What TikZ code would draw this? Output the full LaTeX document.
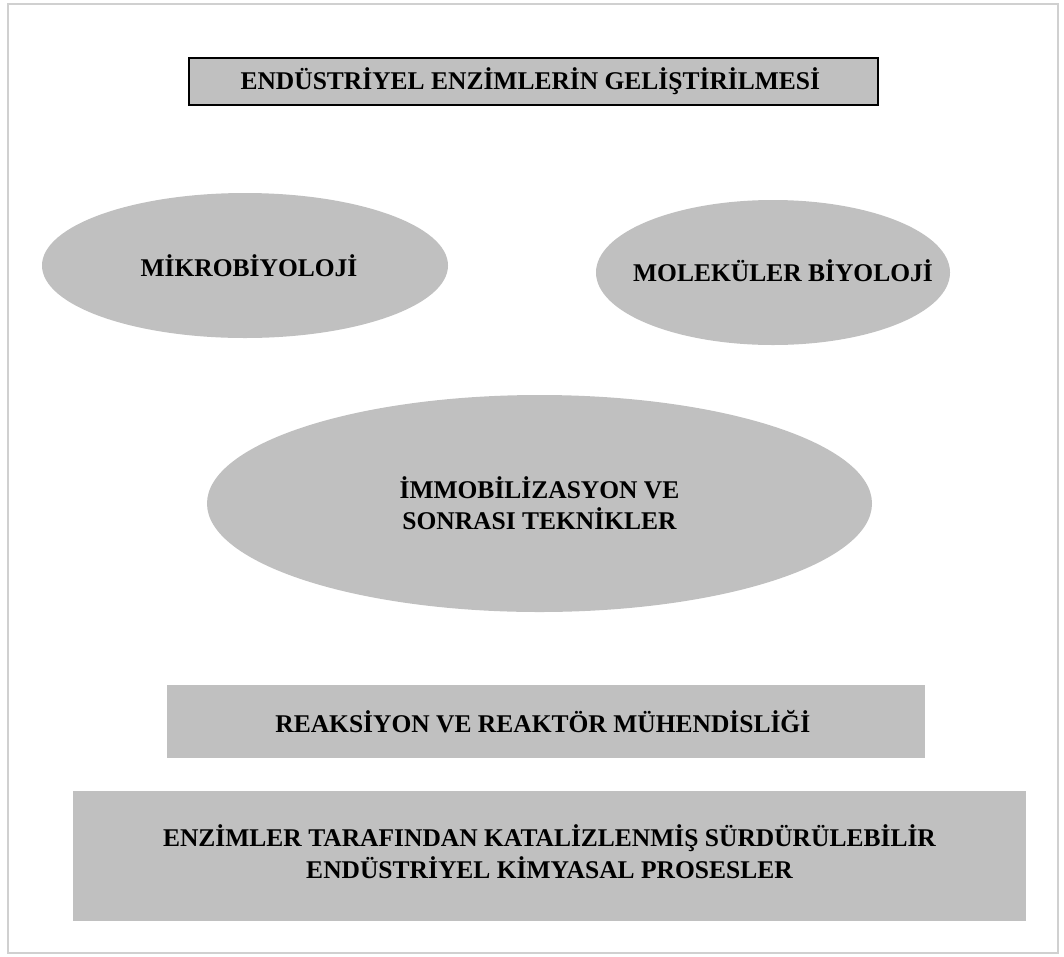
\documentclass[tikz,border=0pt]{standalone}
\usepackage{fontspec}
\setmainfont{Liberation Serif}
\usetikzlibrary{shapes,positioning}

\definecolor{boxgray}{RGB}{192,192,192}
\definecolor{framegray}{RGB}{208,208,208}

\begin{document}
\begin{tikzpicture}[
    x=1pt, y=-1pt,
    layer/.style={rectangle, fill=boxgray, inner sep=0pt, text centered, align=center,
        font=\fontsize{25.5}{32}\selectfont\bfseries},
    field/.style={ellipse, fill=boxgray, inner sep=0pt, text centered, align=center,
        font=\fontsize{25.5}{31}\selectfont\bfseries},
    fieldtext/.style={inner sep=0pt, font=\fontsize{25.5}{31}\selectfont\bfseries}
]
\useasboundingbox (0,0) rectangle (1064,956);

% Frame
\draw[framegray, line width=2pt] (8,4) rectangle (1058,953);

\node[layer, draw=black, line width=1.5pt, minimum width=689pt, minimum height=47pt] (title) at (533.5,81.5) {
    ENDÜSTRİYEL ENZİMLERİN GELİŞTİRİLMESİ
};

% Ellipses
\node[field, minimum width=406pt, minimum height=145pt,
    label={[fieldtext, xshift=4pt]center:MİKROBİYOLOJİ}] (mikro) at (245,265.5) {};
\node[field, minimum width=354pt, minimum height=145pt,
    label={[fieldtext, xshift=10pt, yshift=2pt]center:MOLEKÜLER BİYOLOJİ}] (molek) at (773,272.5) {};
\node[field, minimum width=665pt, minimum height=217pt] (immob) at (539.5,503.5) {
    İMMOBİLİZASYON VE\\
    SONRASI TEKNİKLER
};

% Boxes
\node[layer, minimum width=758pt, minimum height=73pt] (reaktor) at (546,721.5) {
    REAKSİYON VE REAKTÖR MÜHENDİSLİĞİ
};
\node[layer, minimum width=953pt, minimum height=130pt, text depth=8pt] (proses) at (549.5,855.5) {
    ENZİMLER TARAFINDAN KATALİZLENMİŞ SÜRDÜRÜLEBİLİR\\
    ENDÜSTRİYEL KİMYASAL PROSESLER
};

\end{tikzpicture}
\end{document}
